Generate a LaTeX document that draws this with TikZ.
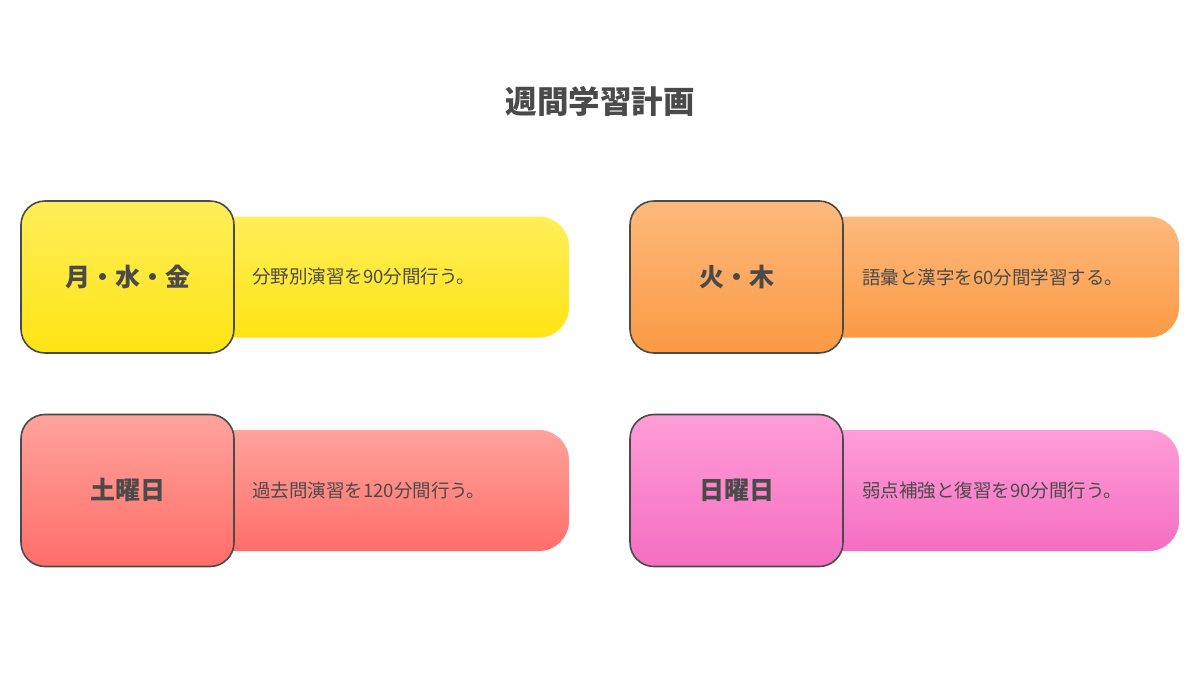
\documentclass[tikz,border=0pt]{standalone}
\usepackage{fontspec}
\setmainfont{Noto Sans CJK JP}
\definecolor{txt}{HTML}{4A4A4A}
\definecolor{edge}{HTML}{4A4A4A}
\definecolor{yT}{HTML}{FFEE5A}\definecolor{yB}{HTML}{FFE414}
\definecolor{oT}{HTML}{FDB97C}\definecolor{oB}{HTML}{FB9A45}
\definecolor{rT}{HTML}{FFA39C}\definecolor{rB}{HTML}{FF6E69}
\definecolor{pT}{HTML}{FF9DD7}\definecolor{pB}{HTML}{F46EC1}
\tikzset{
  daybox/.style={draw=edge, line width=1.6pt, rounded corners=24pt,
    minimum width=213pt, minimum height=152pt, inner sep=0pt,
    font=\fontsize{25}{28}\selectfont\bfseries, text=txt},
  barbox/.style={rounded corners=30pt, minimum width=389pt, minimum height=121pt, inner sep=0pt},
  bartext/.style={anchor=west, inner sep=0pt, font=\fontsize{18.5}{21}\selectfont, text=txt},
  titletext/.style={font=\fontsize{31.5}{35}\selectfont\bfseries, text=txt}
}
\begin{document}
\begin{tikzpicture}[x=1pt,y=-1pt]
\useasboundingbox (0,0) rectangle (1200,675);
\node[titletext] (title) at (600,101) {週間学習計画};
% Row 1
\node[barbox, top color=yT, bottom color=yB] (b1) at (374.5,277) {};
\node[daybox, top color=yT, bottom color=yB] (d1) at (127.5,277) {月・水・金};
\node[bartext] (t1) at (252,277) {分野別演習を90分間行う。};
\node[barbox, top color=oT, bottom color=oB] (b2) at (984.5,277) {};
\node[daybox, top color=oT, bottom color=oB] (d2) at (736.5,277) {火・木};
\node[bartext] (t2) at (862,277) {語彙と漢字を60分間学習する。};
% Row 2
\node[barbox, top color=rT, bottom color=rB] (b3) at (374.5,490.5) {};
\node[daybox, top color=rT, bottom color=rB] (d3) at (127.5,490.5) {土曜日};
\node[bartext] (t3) at (252,490.5) {過去問演習を120分間行う。};
\node[barbox, top color=pT, bottom color=pB] (b4) at (984.5,490.5) {};
\node[daybox, top color=pT, bottom color=pB] (d4) at (736.5,490.5) {日曜日};
\node[bartext] (t4) at (862,490.5) {弱点補強と復習を90分間行う。};
\end{tikzpicture}
\end{document}
